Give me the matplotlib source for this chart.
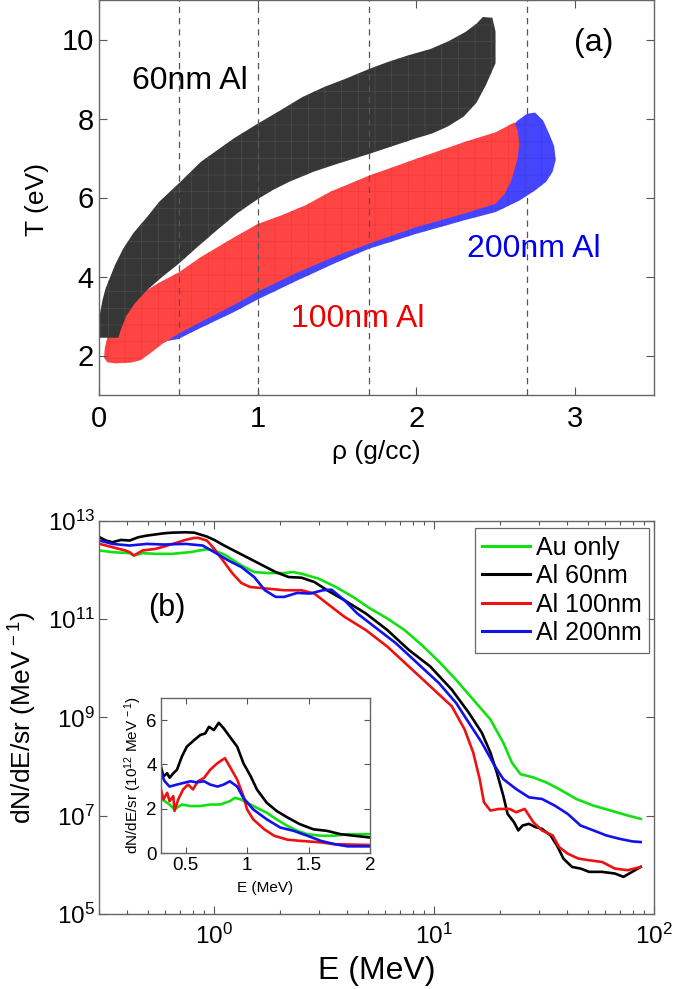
import numpy as np
import matplotlib
matplotlib.use('Agg')
import matplotlib.pyplot as plt
from matplotlib.ticker import FixedLocator, NullLocator, FuncFormatter, LogLocator

plt.rcParams['font.family'] = ['Liberation Sans', 'DejaVu Sans']
plt.rcParams['mathtext.fontset'] = 'custom'
plt.rcParams['mathtext.rm'] = 'Liberation Sans'
plt.rcParams['mathtext.it'] = 'Liberation Sans:italic'
plt.rcParams['mathtext.bf'] = 'Liberation Sans:bold'
plt.rcParams['hatch.linewidth'] = 0.6

# ---------------- Panel (a) data: (rho, T) regions ----------------
rho60_up = [0.0, 0.0, 0.02, 0.04, 0.07, 0.1, 0.15, 0.215, 0.3, 0.38, 0.5, 0.64, 0.85, 1.0, 1.14, 1.28,
            1.42, 1.55, 1.7, 1.82, 1.95, 2.09, 2.2, 2.31, 2.38, 2.42, 2.48, 2.5, 2.5]
T60_up = [2.45, 2.97, 3.4, 3.7, 4.0, 4.3, 4.7, 5.1, 5.5, 5.9, 6.35, 6.9, 7.5, 7.87, 8.2, 8.54,
          8.8, 9.0, 9.25, 9.43, 9.6, 9.76, 9.95, 10.19, 10.4, 10.57, 10.55, 10.2, 9.4]
rho60_lo = [0.0, 0.12, 0.14, 0.17, 0.22, 0.3, 0.4, 0.5, 0.62, 0.75, 0.87, 1.0, 1.1, 1.2, 1.35, 1.5,
            1.7, 1.85, 2.0, 2.1, 2.2, 2.3, 2.38, 2.44, 2.5]
T60_lo = [2.45, 2.45, 2.7, 3.0, 3.3, 3.65, 4.0, 4.32, 4.75, 5.2, 5.6, 5.96, 6.2, 6.4, 6.65, 6.85,
          7.1, 7.3, 7.5, 7.62, 7.8, 8.05, 8.4, 8.85, 9.4]

rho100_up = [0.03, 0.035, 0.06, 0.11, 0.18, 0.26, 0.38, 0.5, 0.64, 0.85, 1.0, 1.15, 1.3, 1.46, 1.7,
             2.0, 2.3, 2.5, 2.62]
T100_up = [1.95, 2.2, 2.6, 2.97, 3.3, 3.56, 3.85, 4.1, 4.49, 4.99, 5.33, 5.55, 5.8, 6.15, 6.55,
           6.98, 7.4, 7.65, 7.9]
rho100_lo = [0.03, 0.05, 0.1, 0.2, 0.26, 0.32, 0.4, 0.5, 0.64, 0.85, 1.0, 1.25, 1.5, 1.75, 2.0, 2.3,
             2.5, 2.56, 2.6, 2.64, 2.65, 2.64, 2.62]
T100_lo = [1.95, 1.83, 1.8, 1.82, 1.88, 2.05, 2.3, 2.55, 2.85, 3.28, 3.62, 4.1, 4.53, 4.9, 5.25, 5.59,
           5.84, 6.1, 6.43, 7.0, 7.36, 7.7, 7.9]

rho200_lo = [0.38, 0.5, 0.64, 0.85, 1.0, 1.25, 1.5, 1.7, 2.0, 2.3, 2.5, 2.65, 2.75, 2.82, 2.86, 2.88]
T200_lo = [2.33, 2.42, 2.7, 3.1, 3.42, 3.9, 4.36, 4.7, 5.08, 5.42, 5.63, 5.92, 6.18, 6.4, 6.65, 6.95]
rho200_up = [0.38, 0.5, 1.0, 1.5, 2.0, 2.4, 2.58, 2.64, 2.7, 2.75, 2.8, 2.84, 2.87, 2.88]
T200_up = [2.45, 3.0, 4.0, 5.0, 6.0, 7.0, 7.7, 7.95, 8.12, 8.15, 7.95, 7.6, 7.3, 6.95]

rho_dashed = [0.5, 1.0, 1.7, 2.7]

# ---------------- Panel (b) data: spectra ----------------
E_au = [0.301, 0.344, 0.412, 0.431, 0.472, 0.540, 0.646, 0.774, 0.926, 1.0, 1.109, 1.160, 1.328, 1.519,
        1.739, 2.082, 2.277, 2.492, 2.983, 3.571, 4.274, 5.117, 6.125, 7.332, 8.777, 10.51, 12.58, 15.06,
        18.03, 20.63, 22.57, 24.69, 28.26, 32.34, 37.02, 44.31, 53.04, 63.49, 76.01, 87.0]
logN_au = [12.394, 12.360, 12.340, 12.292, 12.340, 12.326, 12.326, 12.360, 12.420, 12.394, 12.313, 12.259,
           12.090, 11.956, 11.935, 11.935, 11.956, 11.922, 11.821, 11.652, 11.450, 11.214, 11.012, 10.776,
           10.473, 10.136, 9.765, 9.361, 8.957, 8.485, 8.081, 7.845, 7.778, 7.677, 7.542, 7.340, 7.205,
           7.104, 7.003, 6.935]

E_60 = [0.301, 0.322, 0.344, 0.377, 0.412, 0.451, 0.494, 0.591, 0.646, 0.740, 0.809, 0.847, 0.926, 1.0,
        1.109, 1.269, 1.453, 1.662, 1.902, 2.177, 2.492, 2.852, 3.264, 3.906, 4.891, 6.125, 7.669, 9.603,
        12.03, 14.39, 16.48, 18.03, 19.28, 20.63, 21.58, 23.08, 24.14, 25.25, 27.01, 28.90, 30.92, 33.83,
        36.18, 38.72, 42.36, 46.35, 50.72, 58.03, 66.42, 72.65, 79.51, 87.0]
logN_60 = [12.663, 12.596, 12.562, 12.609, 12.596, 12.663, 12.697, 12.744, 12.757, 12.764, 12.757, 12.730,
           12.677, 12.609, 12.495, 12.360, 12.225, 12.090, 11.956, 11.854, 11.841, 11.753, 11.585, 11.383,
           11.113, 10.776, 10.372, 10.035, 9.563, 9.092, 8.687, 8.283, 7.879, 7.407, 7.036, 6.868, 6.700,
           6.800, 6.834, 6.767, 6.733, 6.598, 6.396, 6.127, 5.958, 5.924, 5.857, 5.857, 5.823, 5.756,
           5.857, 5.958]

E_100 = [0.301, 0.322, 0.344, 0.394, 0.412, 0.431, 0.472, 0.540, 0.591, 0.646, 0.740, 0.809, 0.847, 0.926,
         1.0, 1.109, 1.213, 1.328, 1.453, 1.739, 2.082, 2.492, 2.852, 3.264, 3.906, 4.891, 6.125, 7.669,
         9.603, 12.03, 13.76, 15.06, 16.11, 16.85, 18.03, 19.72, 22.07, 23.60, 25.82, 28.26, 30.92, 34.59,
         37.02, 40.50, 45.32, 50.72, 58.03, 66.42, 76.01, 87.0]
logN_100 = [12.528, 12.495, 12.461, 12.394, 12.360, 12.292, 12.394, 12.427, 12.474, 12.528, 12.609, 12.650,
            12.650, 12.596, 12.427, 12.158, 11.922, 11.733, 11.652, 11.619, 11.585, 11.585, 11.518, 11.315,
            11.046, 10.776, 10.439, 10.035, 9.631, 9.226, 8.755, 8.283, 7.744, 7.272, 7.104, 7.137, 7.137,
            7.070, 7.137, 6.868, 6.700, 6.598, 6.362, 6.228, 6.127, 6.093, 6.059, 5.924, 5.891, 5.958]

E_200 = [0.301, 0.344, 0.412, 0.494, 0.591, 0.740, 0.886, 1.0, 1.160, 1.328, 1.519, 1.700, 1.902, 2.082,
         2.382, 2.727, 3.120, 3.413, 3.906, 4.471, 5.352, 6.702, 8.391, 10.51, 12.58, 14.39, 16.48, 18.86,
         20.63, 23.60, 27.01, 30.92, 35.38, 40.50, 46.35, 53.04, 60.70, 69.47, 79.51, 87.0]
logN_200 = [12.596, 12.528, 12.495, 12.528, 12.515, 12.528, 12.495, 12.360, 12.191, 12.057, 11.854, 11.585,
            11.450, 11.450, 11.531, 11.518, 11.585, 11.598, 11.383, 11.113, 10.844, 10.507, 10.102, 9.698,
            9.294, 8.889, 8.485, 8.013, 7.744, 7.542, 7.373, 7.340, 7.205, 7.036, 6.800, 6.700, 6.598,
            6.531, 6.477, 6.464]

# inset (linear, units of 1e12 / MeV / sr)
Ei_au = [0.30, 0.33, 0.37, 0.41, 0.47, 0.54, 0.62, 0.70, 0.78, 0.86, 0.90, 0.95, 1.0, 1.08, 1.16, 1.24,
         1.33, 1.41, 1.49, 1.60, 1.71, 1.82, 1.92, 2.0]
Ni_au = [2.49, 2.34, 2.19, 1.97, 2.19, 2.12, 2.12, 2.19, 2.19, 2.34, 2.49, 2.42, 2.27, 2.04, 1.82, 1.52,
         1.22, 1.0, 0.85, 0.78, 0.78, 0.85, 0.85, 0.85]
Ei_60 = [0.30, 0.32, 0.35, 0.37, 0.40, 0.43, 0.47, 0.51, 0.57, 0.62, 0.66, 0.69, 0.73, 0.77, 0.81, 0.86,
         0.92, 0.97, 1.03, 1.08, 1.16, 1.24, 1.33, 1.43, 1.54, 1.65, 1.76, 1.87, 2.0]
Ni_60 = [3.9, 3.46, 3.6, 3.4, 3.6, 3.76, 4.36, 4.8, 5.1, 5.33, 5.4, 5.7, 5.55, 5.88, 5.63, 5.25, 4.8, 4.06,
         3.46, 2.87, 2.27, 1.9, 1.6, 1.3, 1.07, 1.0, 0.85, 0.78, 0.7]
Ei_100 = [0.30, 0.32, 0.35, 0.37, 0.40, 0.41, 0.44, 0.48, 0.52, 0.56, 0.60, 0.65, 0.70, 0.76, 0.80, 0.82,
          0.86, 0.92, 0.97, 1.0, 1.05, 1.14, 1.22, 1.33, 1.43, 1.60, 1.71, 2.0]
Ni_100 = [2.87, 2.42, 2.72, 2.34, 2.57, 1.9, 2.42, 2.87, 3.09, 2.87, 3.24, 3.39, 3.76, 4.06, 4.21, 4.28,
          3.9, 3.31, 2.57, 1.97, 1.52, 1.07, 0.78, 0.6, 0.55, 0.48, 0.4, 0.36]
Ei_200 = [0.30, 0.33, 0.37, 0.43, 0.48, 0.54, 0.59, 0.65, 0.70, 0.76, 0.81, 0.86, 0.92, 0.97, 1.05, 1.16,
          1.27, 1.38, 1.49, 1.60, 1.71, 1.82, 2.0]
Ni_200 = [3.6, 3.24, 3.0, 3.09, 3.16, 3.24, 3.19, 3.24, 3.09, 3.0, 3.09, 3.24, 3.0, 2.49, 1.97, 1.52, 1.15,
          1.0, 0.78, 0.55, 0.4, 0.3, 0.3]

labels = ['Au only', 'Al 60nm', 'Al 100nm', 'Al 200nm']
colors = ['#11e011', '#000000', '#ee1111', '#1111ee']

W, H = 675, 989
fig = plt.figure(figsize=(W / 100, H / 100), dpi=100)


def px_axes(x0, y0, x1, y1):
    return fig.add_axes([x0 / W, 1 - y1 / H, (x1 - x0) / W, (y1 - y0) / H])


spine_col = '#666666'


def style(ax, size, pad):
    for s in ax.spines.values():
        s.set_color(spine_col)
        s.set_linewidth(1.0)
    ax.tick_params(which='both', direction='in', top=True, right=True, colors='#555555',
                   labelcolor='black', labelsize=size, pad=pad, width=0.8)
    ax.tick_params(which='major', length=6)
    ax.tick_params(which='minor', length=3)


# ---------------- Panel (a) ----------------
ax1 = px_axes(99.3, 0, 654, 395)
ax1.fill(np.concatenate([rho200_lo, rho200_up[::-1]]), np.concatenate([T200_lo, T200_up[::-1]]),
         facecolor='#4545ff', edgecolor='#3c3cf0', hatch='+', lw=0)
ax1.fill(np.concatenate([rho100_lo, rho100_up[::-1]]), np.concatenate([T100_lo, T100_up[::-1]]),
         facecolor='#ff4444', edgecolor='#f03c3c', hatch='+', lw=0)
ax1.fill(np.concatenate([rho60_lo, rho60_up[::-1]]), np.concatenate([T60_lo, T60_up[::-1]]),
         facecolor='#363636', edgecolor='#4a4a4a', hatch='+', lw=0)
for r in rho_dashed:
    ax1.axvline(r, color='#555555', lw=0.9, ls=(0, (5, 4)))
ax1.set_xlim(0, 3.5)
ax1.set_ylim(1, 11)
ax1.set_xticks([0, 1, 2, 3])
ax1.set_yticks([2, 4, 6, 8, 10])
style(ax1, 21, 4)
ax1.tick_params(axis='x', pad=7)
ax1.text(0.57, 8.95, '60nm Al', fontsize=23, color='black', ha='center', va='center')
ax1.text(1.63, 2.93, '100nm Al', fontsize=23, color='#ee0000', ha='center', va='center')
ax1.text(2.74, 4.7, '200nm Al', fontsize=23, color='#0000ee', ha='center', va='center')
ax1.text(3.12, 9.9, '(a)', fontsize=23, color='black', ha='center', va='center')
fig.text(376.6 / W, 1 - 452 / H, r'ρ (g/cc)', fontsize=19, ha='center', va='center')
fig.text(37 / W, 1 - 200 / H, 'T (eV)', fontsize=19, ha='center', va='center', rotation=90)

# ---------------- Panel (b) ----------------
ax2 = px_axes(99.3, 520.7, 654, 914)
series = [(E_au, logN_au), (E_60, logN_60), (E_100, logN_100), (E_200, logN_200)]
for (e, ln), lab, c in zip(series, labels, colors):
    ax2.plot(e, 10 ** np.array(ln), color=c, lw=1.9, label=lab)
ax2.set_xscale('log')
ax2.set_yscale('log')
ax2.set_xlim(0.3, 100)
ax2.set_ylim(1e5, 1e13)
ax2.yaxis.set_major_locator(FixedLocator([1e5, 1e7, 1e9, 1e11, 1e13]))
ax2.yaxis.set_minor_locator(NullLocator())
ax2.xaxis.set_major_locator(FixedLocator([1, 10, 100]))
ax2.xaxis.set_minor_locator(LogLocator(base=10, subs=np.arange(2, 10)))
fmt = FuncFormatter(lambda v, p: r'$10^{%d}$' % int(round(np.log10(v))))
ax2.xaxis.set_major_formatter(fmt)
ax2.yaxis.set_major_formatter(fmt)
ax2.xaxis.set_minor_formatter(FuncFormatter(lambda v, p: ''))
style(ax2, 17.5, 3)
ax2.tick_params(axis='x', pad=7)
ax2.text(0.61, 1.7e11, '(b)', fontsize=22, ha='center', va='center')
leg = ax2.legend(loc='upper right', bbox_to_anchor=(649 / W, 1 - 528 / H), bbox_transform=fig.transFigure,
                 borderaxespad=0, fontsize=18, frameon=True, fancybox=False, handlelength=1.9,
                 handletextpad=0.25, labelspacing=0.18, borderpad=0.3)
leg.get_frame().set_edgecolor('#444444')
leg.get_frame().set_linewidth(0.9)
for l in leg.get_lines():
    l.set_linewidth(2.2)
fig.text(376.6 / W, 1 - 971 / H, 'E (MeV)', fontsize=23, ha='center', va='center')
fig.text(23.3 / W, 1 - 718 / H, r'dN/dE/sr (MeV$^{\,-1}$)', fontsize=19, ha='center', va='center', rotation=90)

# ---------------- Inset ----------------
ax3 = px_axes(161, 698, 370, 853)
iseries = [(Ei_au, Ni_au), (Ei_60, Ni_60), (Ei_100, Ni_100), (Ei_200, Ni_200)]
for (e, n), c in zip(iseries, colors):
    ax3.plot(e, n, color=c, lw=1.9)
ax3.set_xlim(0.3, 2)
ax3.set_ylim(0, 7)
ax3.set_xticks([0.5, 1, 1.5, 2])
ax3.set_xticklabels(['0.5', '1', '1.5', '2'])
ax3.set_yticks([0, 2, 4, 6])
style(ax3, 13.5, 3)
ax3.tick_params(which='major', length=4)
fig.text(265.5 / W, 1 - 888 / H, 'E (MeV)', fontsize=11, ha='center', va='center')
fig.text(133 / W, 1 - 775 / H, r'dN/dE/sr (10$^{12}$ MeV$^{\,-1}$)', fontsize=11, ha='center', va='center',
         rotation=90)

fig.savefig('out.png', dpi=100)
